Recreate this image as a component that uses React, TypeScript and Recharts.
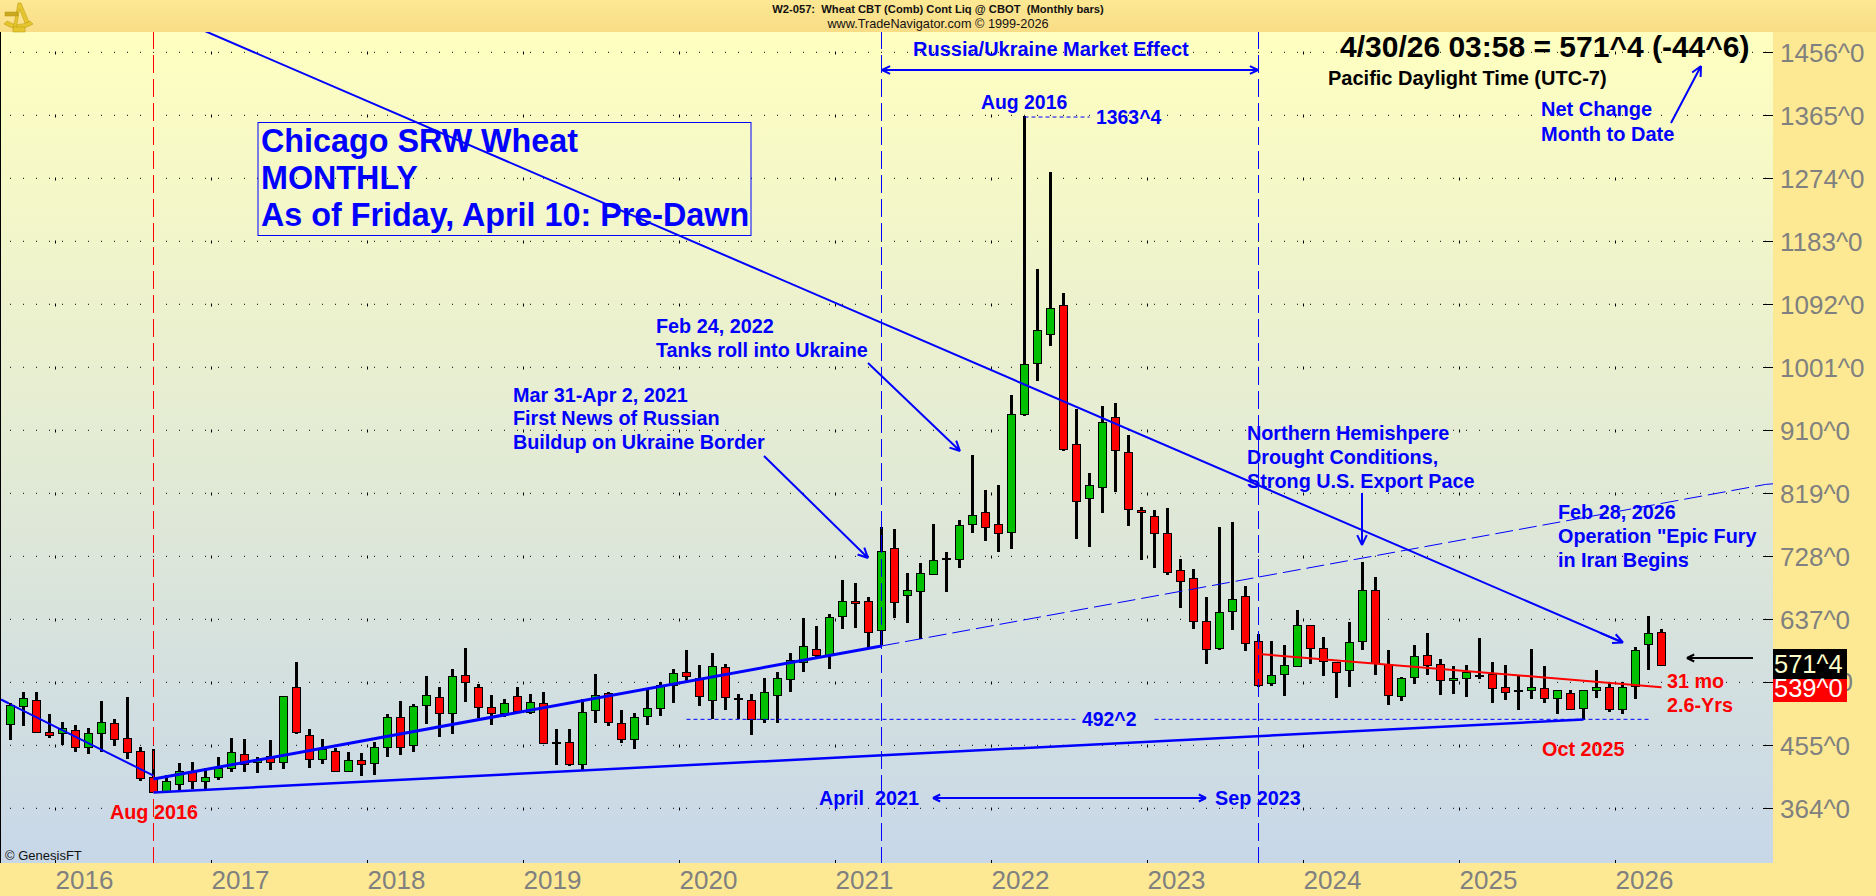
import { Bar, CartesianGrid, ComposedChart, ReferenceLine, XAxis, YAxis } from "recharts"

const FONT = "'Liberation Sans', Arial, sans-serif"
const BLUE = "#0000ff"
const RED = "#ff0000"

const years = [2016, 2017, 2018, 2019, 2020, 2021, 2022, 2023, 2024, 2025, 2026]
const priceTicks = [364, 455, 546, 637, 728, 819, 910, 1001, 1092, 1183, 1274, 1365, 1456]

const months = [
  "2015-09", "2015-10", "2015-11", "2015-12",
  "2016-01", "2016-02", "2016-03", "2016-04", "2016-05", "2016-06", "2016-07", "2016-08", "2016-09", "2016-10", "2016-11", "2016-12",
  "2017-01", "2017-02", "2017-03", "2017-04", "2017-05", "2017-06", "2017-07", "2017-08", "2017-09", "2017-10", "2017-11", "2017-12",
  "2018-01", "2018-02", "2018-03", "2018-04", "2018-05", "2018-06", "2018-07", "2018-08", "2018-09", "2018-10", "2018-11", "2018-12",
  "2019-01", "2019-02", "2019-03", "2019-04", "2019-05", "2019-06", "2019-07", "2019-08", "2019-09", "2019-10", "2019-11", "2019-12",
  "2020-01", "2020-02", "2020-03", "2020-04", "2020-05", "2020-06", "2020-07", "2020-08", "2020-09", "2020-10", "2020-11", "2020-12",
  "2021-01", "2021-02", "2021-03", "2021-04", "2021-05", "2021-06", "2021-07", "2021-08", "2021-09", "2021-10", "2021-11", "2021-12",
  "2022-01", "2022-02", "2022-03", "2022-04", "2022-05", "2022-06", "2022-07", "2022-08", "2022-09", "2022-10", "2022-11", "2022-12",
  "2023-01", "2023-02", "2023-03", "2023-04", "2023-05", "2023-06", "2023-07", "2023-08", "2023-09", "2023-10", "2023-11", "2023-12",
  "2024-01", "2024-02", "2024-03", "2024-04", "2024-05", "2024-06", "2024-07", "2024-08", "2024-09", "2024-10", "2024-11", "2024-12",
  "2025-01", "2025-02", "2025-03", "2025-04", "2025-05", "2025-06", "2025-07", "2025-08", "2025-09", "2025-10", "2025-11", "2025-12",
  "2026-01", "2026-02", "2026-03", "2026-04", "2026-05", "2026-06", "2026-07", "2026-08", "2026-09", "2026-10", "2026-11", "2026-12",
]

const opens = [
  485.3, 512.3, 520, 473.7, 473.3, 476.6, 453, 473.3, 486.8, 465, 446.3, 408.7,
  389.5, 399.6, 417.4, 403, 408.7, 421.7, 442.9, 430.4, 439, 430.4, 538.8, 469.4,
  434.7, 446.3, 418.4, 433.3, 428.9, 452, 495.4, 455, 512.8, 524.3, 501.2, 556.1,
  538.8, 509.9, 501.2, 525.7, 502.6, 515.6, 458.8, 459.3, 428.5, 505.5, 530.1, 486.8,
  463.6, 496.9, 508.4, 541.6, 560.4, 551.7, 520, 567.6, 522.4, 520, 492.5, 527.2,
  550.3, 574.9, 593.6, 585, 642.3, 663, 663, 622, 739.5, 672.6, 678.4, 702.9,
  724.6, 724.6, 774.2, 791.5, 774.2, 762.6, 934, 1006.7, 1048.6, 1090.5, 889.8, 811.8,
  827.6, 928.8, 878.2, 794.4, 785.8, 761.2, 707.8, 696.2, 634.1, 595.1, 648.5, 670.2,
  605.2, 544.5, 557.5, 569.1, 628.3, 595.1, 574.9, 563.3, 605.2, 678.9, 572, 525.7,
  553.2, 585, 571.9, 548.8, 551.7, 555.6, 557.5, 538.7, 533.9, 534.4, 537.3, 522.8,
  530, 508.4, 534.4, 538.7, 506.9, 540.2, 600.8, 618.2,
]

const highs = [
  515.6, 531.5, 531.5, 500.2, 488.7, 483.9, 479.5, 519, 493, 524.8, 452.6, 449.7,
  411.6, 429, 430.4, 421.7, 437.6, 465, 463.6, 437.6, 462.2, 525.7, 575.3, 478.1,
  463.6, 450.6, 444.9, 443.4, 459.8, 499.7, 519, 514.7, 555.1, 539.2, 565.2, 595.6,
  543.6, 527.7, 521.9, 539.2, 528.6, 531.5, 478.1, 478.1, 521.4, 557.5, 531.5, 505.5,
  501.2, 535.9, 546, 564.7, 592.2, 570.5, 587.9, 572, 528.6, 528.6, 551.7, 560.4,
  587.9, 638.4, 626.9, 644.2, 693.8, 689.5, 668.8, 770.3, 767, 703.9, 717.9, 774.7,
  733.8, 780, 873.9, 823.3, 830.5, 960.9, 1363.5, 1142.9, 1283, 1108.3, 940.8, 847.9,
  945.1, 949, 902.8, 798.8, 794.4, 797.3, 723.6, 709.2, 668.8, 769.9, 777.1, 684.6,
  615.3, 605.2, 599.4, 650, 628.3, 611, 575.3, 632.6, 719.3, 697.6, 592.2, 553.2,
  599.4, 616.8, 579.2, 569.1, 570.5, 609.5, 574.8, 570.5, 556, 593.6, 569.1, 535.3,
  535.3, 535.3, 563.3, 544.5, 545.9, 596.5, 641.3, 622.5,
]

const lows = [
  462.7, 482.9, 473, 465.6, 455, 445.3, 442.5, 445.3, 454, 434.7, 403.4, 387,
  388, 390.4, 391.4, 390.4, 404.9, 416.4, 416.4, 415, 419.3, 420.8, 471.3, 422.2,
  428, 416.9, 416.4, 410.7, 412.1, 438.1, 441, 445.3, 485.8, 467, 471.3, 517.6,
  494.5, 484.3, 496.4, 501.2, 500.2, 456.9, 426.6, 425.6, 418.4, 487.2, 482.9, 458.3,
  449.7, 484.3, 497.3, 516.1, 544.5, 511.8, 492.5, 506, 492.5, 469.9, 487.2, 487.2,
  532, 560.9, 579.2, 565.2, 623, 624.5, 593.6, 599.9, 638.9, 631.7, 608.1, 702.9,
  676.5, 711.6, 761.7, 750.6, 734.7, 739, 930.6, 981.6, 1031.7, 880.6, 753, 742,
  791, 821.4, 771.8, 722.7, 711.6, 701.5, 653.8, 623.5, 572.9, 593.2, 621.6, 591.7,
  539.7, 541.2, 526.7, 569, 572.9, 555.6, 523.8, 539.7, 592.7, 557, 513.7, 519.5,
  544, 557, 528.1, 529.6, 525.2, 550.3, 516.6, 520.9, 506.5, 522.3, 516.6, 500.7,
  506.5, 492.2, 523.8, 503.6, 500.7, 522.3, 564.2, 570,
]

const closes = [
  512.8, 522.9, 474.7, 470.4, 479.5, 453, 473.3, 488.2, 464.6, 445.8, 408.3, 388,
  403, 417.4, 403, 408.7, 421.7, 444.9, 427.5, 433.8, 430.4, 525.7, 474.7, 434.7,
  449.2, 418.4, 433.3, 427.5, 452, 495.4, 452, 511.3, 527.2, 501.2, 554.6, 546,
  509.9, 501.2, 515.6, 504.1, 517.1, 458.8, 458.8, 428.5, 502.6, 527.2, 488.2, 463.6,
  495.4, 508.4, 541.6, 558.9, 554.6, 525.7, 569.1, 524.3, 522.4, 492.5, 531.5, 551.7,
  577.7, 598, 585, 639.9, 663, 660.1, 618.2, 735.2, 662.5, 678.9, 703.4, 722.2,
  724.6, 772.8, 787.2, 769.9, 761.2, 933, 1005.2, 1054.3, 1086.1, 883.5, 807.4, 830.5,
  921.5, 881.1, 795.9, 791.5, 761.2, 704.9, 691.9, 634.1, 593.6, 647.1, 665.9, 602.3,
  541.6, 556.1, 570.5, 628.3, 595.1, 576.3, 560.4, 603.7, 678.9, 573.4, 527.2, 551.7,
  583.5, 570.5, 548.8, 551.7, 560.4, 555.6, 537.3, 531.5, 533.9, 538.7, 522.8, 534.4,
  507.9, 534.4, 538.7, 506.9, 538.7, 592.2, 616.7, 571.4,
]

const chartData = months.map((month, i) => ({
  month,
  open: opens[i],
  high: highs[i],
  low: lows[i],
  close: closes[i],
}))

function Candle(props: any) {
  const { x, y, width, height, payload } = props
  if (payload.high == null || !Number.isFinite(y)) return null
  const cx = Math.round(x + width / 2 - 0.5) + 0.5
  const perPrice = height / (payload.high - payload.low)
  const toY = (p: number) => y + (payload.high - p) * perPrice
  const top = Math.round(toY(Math.max(payload.open, payload.close)))
  const bottom = Math.round(toY(Math.min(payload.open, payload.close)))
  const isDoji = Math.abs(payload.open - payload.close) < 0.5
  return (
    <g shapeRendering="crispEdges">
      <rect x={cx - 1.5} y={y} width={3} height={height} fill="#000" />
      {isDoji ? (
        <rect x={cx - 4.5} y={top - 1} width={9} height={2} fill="#000" />
      ) : (
        <rect
          x={cx - 4}
          y={top + 0.5}
          width={8}
          height={Math.max(bottom - top, 1)}
          fill={payload.close >= payload.open ? "#00c000" : RED}
          stroke="#000"
        />
      )}
    </g>
  )
}

function PriceTick(props: any) {
  const { x, y, payload } = props
  // the 546 label sits behind the last-price boxes, only the end of its last digit shows
  const hidden = payload.value === 546
  return (
    <g>
      <line x1={1763} x2={1773} y1={y} y2={y} stroke="#000" shapeRendering="crispEdges" />
      {hidden ? (
        <>
          <clipPath id="tick546">
            <rect x={1847} y={y - 20} width={20} height={40} />
          </clipPath>
          <text x={x + 63.6} y={y + 9} fontFamily={FONT} fontSize={26} fill="#808080" clipPath="url(#tick546)">
            0
          </text>
        </>
      ) : (
        <text x={x + 5} y={y + 10} fontFamily={FONT} fontSize={26} fill="#808080">
          {payload.value}^0
        </text>
      )}
    </g>
  )
}

function YearTick(props: any) {
  const { x, y, payload } = props
  return (
    <g>
      <line x1={x - 7} x2={x - 7} y1={860} y2={863} stroke="#000" shapeRendering="crispEdges" />
      <text x={x - 7} y={y + 24} fontFamily={FONT} fontSize={26} fill="#808080">
        {payload.value.slice(0, 4)}
      </text>
    </g>
  )
}

function Note({ x, y, size = 19.8, color = BLUE, weight = "bold", anchor = "start", children }: any) {
  return (
    <text
      x={x}
      y={y}
      fontFamily={FONT}
      fontSize={size}
      fontWeight={weight}
      fill={color}
      textAnchor={anchor}
      dominantBaseline="central"
      style={{ whiteSpace: "pre" }}
    >
      {children}
    </text>
  )
}

// line with an open arrow head at the (x2, y2) end
function Arrow({ x1, y1, x2, y2, color = BLUE, width = 2, head = 11 }: any) {
  const a = Math.atan2(y2 - y1, x2 - x1)
  const wing = (d: number) => `L${x2 - head * Math.cos(a + d)} ${y2 - head * Math.sin(a + d)}`
  return (
    <path
      d={`M${x1} ${y1}L${x2} ${y2}${wing(0.45)}M${x2} ${y2}${wing(-0.45)}`}
      fill="none"
      stroke={color}
      strokeWidth={width}
    />
  )
}

function Sextant() {
  return (
    <g fill="#e6c62e" stroke="#b8960f" strokeWidth={0.5}>
      <path d="M4 24 Q18 33 33 24 L30 21 Q18 28 7 21Z" />
      <path d="M18 3 L21 3 L29 22 L25 23 L19.5 9 L16 30 L13 30Z" />
      <rect x={5} y={12} width={13} height={4} fill="#c9a820" />
      <rect x={13} y={27} width={12} height={5} />
    </g>
  )
}

function Annotations() {
  return (
    <g>
      <Sextant />
      <Note x={938} y={9} size={11.2} color="#111" anchor="middle">{"W2-057:  Wheat CBT (Comb) Cont Liq @ CBOT  (Monthly bars)"}</Note>
      <Note x={938} y={24} size={12.7} color="#111" weight="normal" anchor="middle">www.TradeNavigator.com © 1999-2026</Note>

      <rect x={258} y={122.5} width={493} height={113} fill="none" stroke={BLUE} />
      <Note x={261} y={141} size={32.3}>Chicago SRW Wheat</Note>
      <Note x={261} y={178} size={32.3}>MONTHLY</Note>
      <Note x={261} y={215} size={32.3}>As of Friday, April 10: Pre-Dawn</Note>

      <Note x={913} y={49} size={20}>Russia/Ukraine Market Effect</Note>
      <Arrow x1={1060} y1={70} x2={882} y2={70} head={9} />
      <Arrow x1={1060} y1={70} x2={1258} y2={70} head={9} />

      <Note x={981} y={102} size={19.4}>Aug 2016</Note>
      <Note x={1096} y={117} size={19.4}>1363^4</Note>

      <Note x={656} y={326}>Feb 24, 2022</Note>
      <Note x={656} y={350}>Tanks roll into Ukraine</Note>
      <Arrow x1={868} y1={363} x2={960} y2={451} />

      <Note x={513} y={395}>Mar 31-Apr 2, 2021</Note>
      <Note x={513} y={418}>First News of Russian</Note>
      <Note x={513} y={442}>Buildup on Ukraine Border</Note>
      <Arrow x1={764} y1={456} x2={868} y2={558} />

      <Note x={1247} y={433}>Northern Hemishpere</Note>
      <Note x={1247} y={457}>Drought Conditions,</Note>
      <Note x={1247} y={481}>Strong U.S. Export Pace</Note>
      <Arrow x1={1362} y1={493} x2={1362} y2={545} />

      <Note x={1558} y={512}>Feb 28, 2026</Note>
      <Note x={1558} y={536}>Operation "Epic Fury</Note>
      <Note x={1558} y={560}>in Iran Begins</Note>
      <Arrow x1={1600} y1={632.8} x2={1623} y2={642.5} />

      <Note x={1340} y={46} size={30} color="#000">4/30/26 03:58 = 571^4 (-44^6)</Note>
      <Note x={1328} y={78} size={20} color="#000">Pacific Daylight Time (UTC-7)</Note>
      <Note x={1541} y={109} size={20}>Net Change</Note>
      <Note x={1541} y={134} size={20}>Month to Date</Note>
      <Arrow x1={1671} y1={123} x2={1701} y2={66} />

      <Note x={1667} y={681} color={RED}>31 mo</Note>
      <Note x={1667} y={705} color={RED}>2.6-Yrs</Note>
      <Note x={1542} y={749} color={RED}>Oct 2025</Note>
      <Note x={110} y={812} color={RED}>Aug 2016</Note>
      <Note x={1082} y={719} size={19.4}>492^2</Note>
      <Note x={819} y={798}>April  2021</Note>
      <Note x={1215} y={798}>Sep 2023</Note>
      <Arrow x1={1070} y1={798} x2={933} y2={798} head={8} />
      <Arrow x1={1070} y1={798} x2={1206} y2={798} head={8} />
      <Note x={5} y={855} size={13} color="#111" weight="normal">© GenesisFT</Note>

      {/* the two trend lines run on past the first and last month */}
      <path d="M1 699.5L9 703.5" stroke={BLUE} strokeWidth={2} />
      <path d="M1765.5 484.4L1773 483.8" stroke={BLUE} />

      <Arrow x1={1753} y1={658} x2={1687} y2={658} color="#000" head={8} />
      <rect x={1773} y={649} width={74} height={30} fill="#000" />
      <rect x={1773} y={679} width={74} height={23} fill={RED} />
      <text x={1774} y={673} fontFamily={FONT} fontSize={25.5} fill="#ffffcc">571^4</text>
      <text x={1774} y={697} fontFamily={FONT} fontSize={25.5} fill="#fff">539^0</text>
    </g>
  )
}

export default function App() {
  return (
    <div
      style={{
        position: "absolute",
        left: 0,
        top: 0,
        width: 1876,
        height: 896,
        background: "linear-gradient(#fde893 0, #f9dc86 32px, #fde993 32px)",
        overflow: "hidden",
      }}
    >
      <div
        style={{
          position: "absolute",
          left: 0,
          top: 32,
          width: 1773,
          height: 831,
          borderLeft: "1px solid #000",
          boxSizing: "border-box",
          background: "linear-gradient(#ffffc0, #c7d7e8)",
        }}
      />
      <ComposedChart
        width={1876}
        height={896}
        data={chartData}
        barCategoryGap={0}
        margin={{ top: 32, right: 0, bottom: 0, left: 1 }}
        style={{ position: "absolute", left: 0, top: 0 }}
      >
        <CartesianGrid
          vertical={false}
          horizontalValues={priceTicks}
          stroke="#000"
          strokeDasharray="1 12"
          strokeDashoffset={4}
        />
        <CartesianGrid
          horizontal={false}
          verticalCoordinatesGenerator={() => years.map((_, i) => 55.5 + i * 156)}
          stroke="#000"
          strokeDasharray="3 60"
          strokeDashoffset={43.5}
        />
        <XAxis
          dataKey="month"
          interval={0}
          ticks={years.map((y) => `${y}-01`)}
          tick={<YearTick />}
          tickLine={false}
          axisLine={false}
          height={33}
          tickSize={0}
          padding={{ left: 3, right: 1 }}
        />
        <YAxis
          orientation="right"
          domain={[285, 1485.3]}
          allowDataOverflow
          ticks={priceTicks}
          interval={0}
          tick={<PriceTick />}
          tickLine={false}
          axisLine={false}
          tickSize={0}
          width={103}
        />

        <ReferenceLine x="2016-08" stroke={RED} strokeDasharray="18 6" strokeDashoffset={2} />
        <ReferenceLine x="2021-04" stroke={BLUE} strokeDasharray="18 6" strokeDashoffset={2} />
        <ReferenceLine x="2023-09" stroke={BLUE} strokeDasharray="18 6" strokeDashoffset={2} />

        <ReferenceLine segment={[{ x: "2015-09", y: 514.2 }, { x: "2016-08", y: 411.2 }]} stroke={BLUE} strokeWidth={2} />
        <ReferenceLine segment={[{ x: "2016-08", y: 406.3 }, { x: "2021-04", y: 598.5 }]} stroke={BLUE} strokeWidth={3} />
        <ReferenceLine segment={[{ x: "2021-04", y: 598.5 }, { x: "2026-12", y: 831.8 }]} stroke={BLUE} strokeDasharray="18 6" />
        <ReferenceLine segment={[{ x: "2016-08", y: 387 }, { x: "2025-10", y: 492.2 }]} stroke={BLUE} strokeWidth={2.5} />
        <ReferenceLine segment={[{ x: "2023-09", y: 586.9 }, { x: "2026-04", y: 539 }]} stroke={RED} strokeWidth={2} />
        <ReferenceLine segment={[{ x: "2022-03", y: 1362.5 }, { x: "2022-08", y: 1362.5 }]} stroke={BLUE} strokeDasharray="4 3" />
        <ReferenceLine segment={[{ x: "2020-01", y: 492.5 }, { x: "2022-07", y: 492.5 }]} stroke={BLUE} strokeDasharray="4 3" />
        <ReferenceLine segment={[{ x: "2023-01", y: 492.5 }, { x: "2026-03", y: 492.5 }]} stroke={BLUE} strokeDasharray="4 3" />

        <Bar dataKey={(d: any) => (d.high == null ? null : [d.low, d.high])} shape={<Candle />} isAnimationActive={false} />

        <ReferenceLine
          segment={[{ x: "2016-12", y: 1486.3 }, { x: "2026-01", y: 603.7 }]}
          stroke={BLUE}
          strokeWidth={2}
          ifOverflow="hidden"
        />
        <Annotations />
      </ComposedChart>
    </div>
  )
}
